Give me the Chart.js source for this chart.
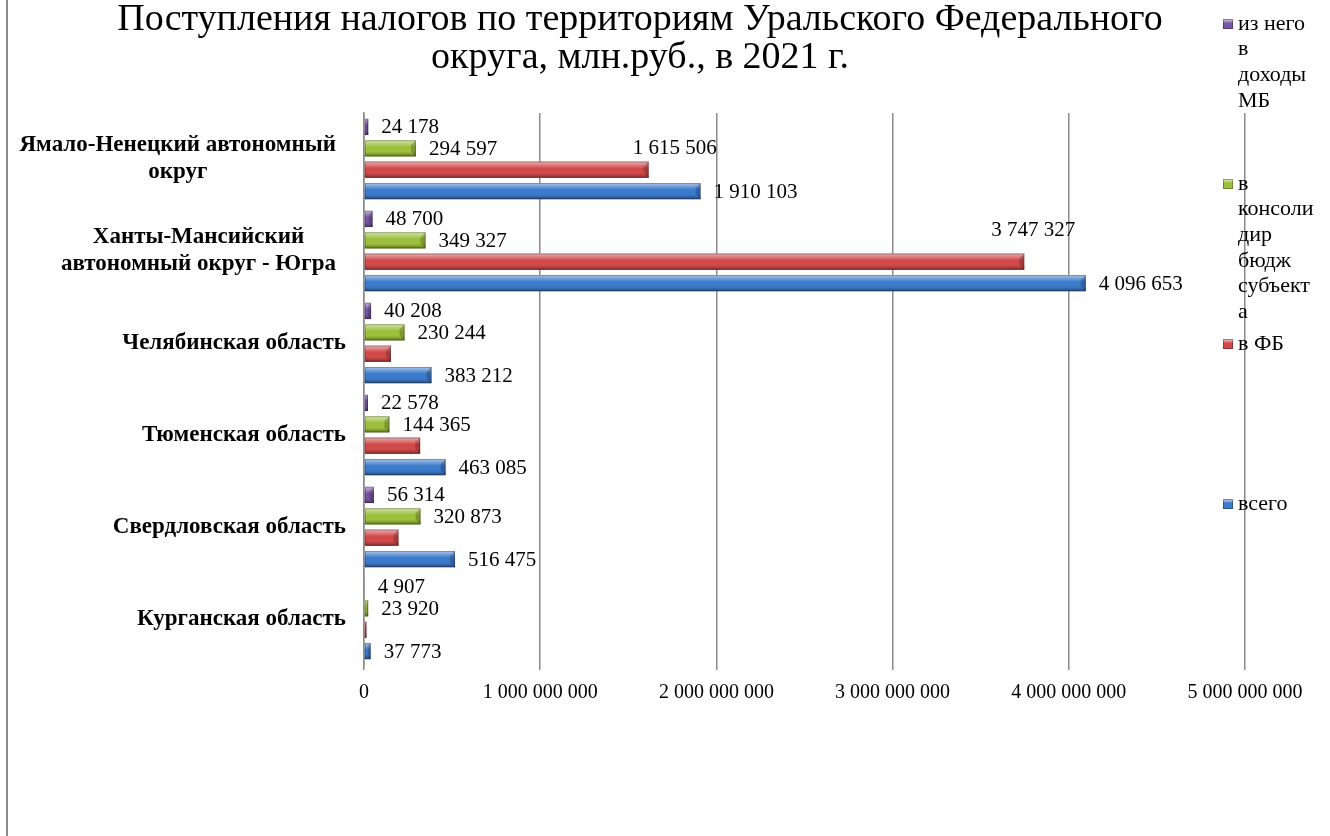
<!DOCTYPE html>
<html>
<head>
<meta charset="utf-8">
<script src="https://cdn.jsdelivr.net/npm/chart.js@4.4.1/dist/chart.umd.min.js"></script>
<style>
  html, body { margin: 0; padding: 0; background: #ffffff; }
  #wrap { position: relative; width: 1330px; height: 836px; overflow: hidden; }
  #frame { position: absolute; left: 6px; top: 0; width: 2px; height: 836px; background: #8a8a8a; }
  canvas { position: absolute; left: 0; top: 0; }
</style>
</head>
<body>
<div id="wrap">
  <canvas id="chart" width="1330" height="836"></canvas>
  <div id="frame"></div>
</div>
<script>
// ---- data (axis unit: thousand rubles; labels show million rubles) ----
const categories = [
  ["Ямало-Ненецкий автономный", "округ"],
  ["Ханты-Мансийский", "автономный округ - Югра"],
  ["Челябинская область"],
  ["Тюменская область"],
  ["Свердловская область"],
  ["Курганская область"]
];
const seriesNames = ["из него в доходы МБ", "в консолидир бюдж субъекта", "в ФБ", "всего"];
const legendLines = [
  ["из него", "в", "доходы", "МБ"],
  ["в", "консоли", "дир", "бюдж", "субъект", "а"],
  ["в ФБ"],
  ["всего"]
];
const izNegoMB   = [24178000, 48700000, 40208000, 22578000, 56314000, 4907000];
const vKonsBudzh = [294597000, 349327000, 230244000, 144365000, 320873000, 23920000];
const vFB        = [1615506000, 3747327000, 152968000, 318720000, 195602000, 13853000];
const vsego      = [1910103000, 4096653000, 383212000, 463085000, 516475000, 37773000];
const fbLabelShown = [true, true, false, false, false, false];
const xTickValues = [0, 1000000000, 2000000000, 3000000000, 4000000000, 5000000000];

const LABEL_UNIT = 1000;
const fmt = n => String(Math.round(n)).replace(/\B(?=(\d{3})+(?!\d))/g, ' ');
const SERIF = '"Liberation Serif", "Times New Roman", serif';

const colors = ['#7856a6', '#9cbf3c', '#d2494a', '#3c7bcc'];

const bevelPlugin = {
  id: 'bevel',
  afterDatasetsDraw(chart) {
    const ctx = chart.ctx;
    chart.data.datasets.forEach((ds, di) => {
      const meta = chart.getDatasetMeta(di);
      meta.data.forEach(bar => {
        const p = bar.getProps(['x', 'y', 'base', 'height'], true);
        const top = p.y - p.height / 2, bot = p.y + p.height / 2;
        const w = p.x - p.base;
        if (w <= 0.3) return;
        ctx.save();
        const g = ctx.createLinearGradient(0, top, 0, bot);
        g.addColorStop(0, 'rgba(255,255,255,0.55)');
        g.addColorStop(0.2, 'rgba(255,255,255,0.3)');
        g.addColorStop(0.42, 'rgba(255,255,255,0)');
        g.addColorStop(0.72, 'rgba(0,0,0,0)');
        g.addColorStop(1, 'rgba(0,0,0,0.38)');
        ctx.fillStyle = g;
        ctx.fillRect(p.base, top, w, p.height);
        const b = Math.min(5, w / 2, p.height / 3);
        ctx.beginPath();
        ctx.moveTo(p.x - b, top + b);
        ctx.lineTo(p.x, top);
        ctx.lineTo(p.x, bot);
        ctx.lineTo(p.x - b, bot - b);
        ctx.closePath();
        ctx.fillStyle = 'rgba(0,0,0,0.2)';
        ctx.fill();
        ctx.strokeStyle = 'rgba(0,0,0,0.25)';
        ctx.lineWidth = 1;
        ctx.strokeRect(p.base + 0.5, top + 0.5, Math.max(w - 1, 0), p.height - 1);
        ctx.restore();
      });
    });
  }
};

const valueLabelPlugin = {
  id: 'valueLabels',
  afterDatasetsDraw(chart, args, opts) {
    const ctx = chart.ctx;
    ctx.save();
    ctx.font = '21px ' + SERIF;
    ctx.fillStyle = '#000';
    ctx.textBaseline = 'middle';
    ctx.textAlign = 'left';
    chart.data.datasets.forEach((ds, di) => {
      const meta = chart.getDatasetMeta(di);
      meta.data.forEach((bar, i) => {
        if (ds.labelShown && !ds.labelShown[i]) return;
        const n = (opts.nudges[di] && opts.nudges[di][i]) || opts.defaultNudge;
        ctx.fillText(fmt(ds.data[i] / LABEL_UNIT), bar.x + n[0], bar.y + n[1]);
      });
    });
    ctx.restore();
  }
};

const categoryLabelPlugin = {
  id: 'catLabels',
  afterDraw(chart) {
    const ctx = chart.ctx;
    const y = chart.scales.y;
    ctx.save();
    ctx.font = 'bold 23px ' + SERIF;
    ctx.fillStyle = '#000';
    ctx.textBaseline = 'middle';
    ctx.textAlign = 'center';
    categories.forEach((lines, i) => {
      const cy = y.getPixelForValue(i);
      const right = lines.length > 1 ? 336 : 346;
      const wMax = Math.max(...lines.map(l => ctx.measureText(l).width));
      const cx = right - wMax / 2;
      lines.forEach((l, j) => {
        ctx.fillText(l, cx, cy + (j - (lines.length - 1) / 2) * 27);
      });
    });
    ctx.restore();
  }
};

const sideLegendPlugin = {
  id: 'sideLegend',
  afterDraw(chart) {
    const ctx = chart.ctx;
    ctx.save();
    ctx.font = '22px ' + SERIF;
    ctx.textBaseline = 'middle';
    ctx.textAlign = 'left';
    chart.data.datasets.forEach((ds, di) => {
      const cy = 24 + di * 160;
      const bx = 1223, by = cy - 5, bs = 10;
      const g = ctx.createLinearGradient(0, by, 0, by + bs);
      g.addColorStop(0, 'rgba(255,255,255,0.6)');
      g.addColorStop(0.4, ds.backgroundColor);
      g.addColorStop(1, ds.backgroundColor);
      ctx.fillStyle = ds.backgroundColor;
      ctx.fillRect(bx, by, bs, bs);
      ctx.fillStyle = g;
      ctx.fillRect(bx, by, bs, bs);
      ctx.strokeStyle = 'rgba(0,0,0,0.3)';
      ctx.strokeRect(bx + 0.5, by + 0.5, bs - 1, bs - 1);
      ctx.fillStyle = '#000';
      legendLines[di].forEach((l, j) => ctx.fillText(l, 1238, cy + j * 25.6));
    });
    ctx.restore();
  }
};

new Chart(document.getElementById('chart'), {
  type: 'bar',
  data: {
    labels: categories,
    datasets: [
      { label: seriesNames[0], data: izNegoMB,   backgroundColor: colors[0], yAxisID: 'y' },
      { label: seriesNames[1], data: vKonsBudzh, backgroundColor: colors[1], yAxisID: 'y' },
      { label: seriesNames[2], data: vFB,        backgroundColor: colors[2], yAxisID: 'y', labelShown: fbLabelShown },
      { label: seriesNames[3], data: vsego,      backgroundColor: colors[3], yAxisID: 'y' }
    ]
  },
  options: {
    indexAxis: 'y',
    responsive: false,
    animation: false,
    devicePixelRatio: 1,
    categoryPercentage: 0.93,
    barPercentage: 0.76,
    layout: { padding: { left: 0, right: 50, top: 0, bottom: 120 } },
    plugins: {
      legend: { display: false },
      tooltip: { enabled: false },
      title: {
        display: true,
        text: ['Поступления налогов по территориям Уральского Федерального', 'округа, млн.руб., в 2021 г.'],
        color: '#000',
        font: { family: SERIF, size: 38, weight: 'normal', lineHeight: '38px' },
        padding: { top: 1, bottom: 36 }
      },
      valueLabels: {
        defaultNudge: [13, 1],
        nudges: { 2: { 0: [-16, -21], 1: [-33, -31] } }
      }
    },
    scales: {
      x: {
        type: 'linear',
        position: 'bottom',
        min: 0,
        max: 5000000000,
        afterBuildTicks: s => { s.ticks = xTickValues.map(v => ({ value: v })); },
        ticks: {
          color: '#000',
          font: { family: SERIF, size: 20 },
          padding: 11,
          maxRotation: 0,
          callback: v => fmt(v)
        },
        grid: { color: '#8a8a8a', lineWidth: 1.5, tickLength: 5, drawTicks: true },
        border: { display: false }
      },
      y: {
        type: 'category',
        position: 'left',
        ticks: { display: false },
        grid: { display: false },
        border: { display: true, color: '#8a8a8a', width: 1.5 },
        afterFit: s => { s.width = 364; }
      },
      yR: {
        type: 'category',
        position: 'right',
        ticks: { display: false },
        grid: { display: false },
        border: { display: false },
        afterFit: s => { s.width = 35; }
      }
    }
  },
  plugins: [bevelPlugin, valueLabelPlugin, categoryLabelPlugin, sideLegendPlugin]
});
</script>
</body>
</html>
